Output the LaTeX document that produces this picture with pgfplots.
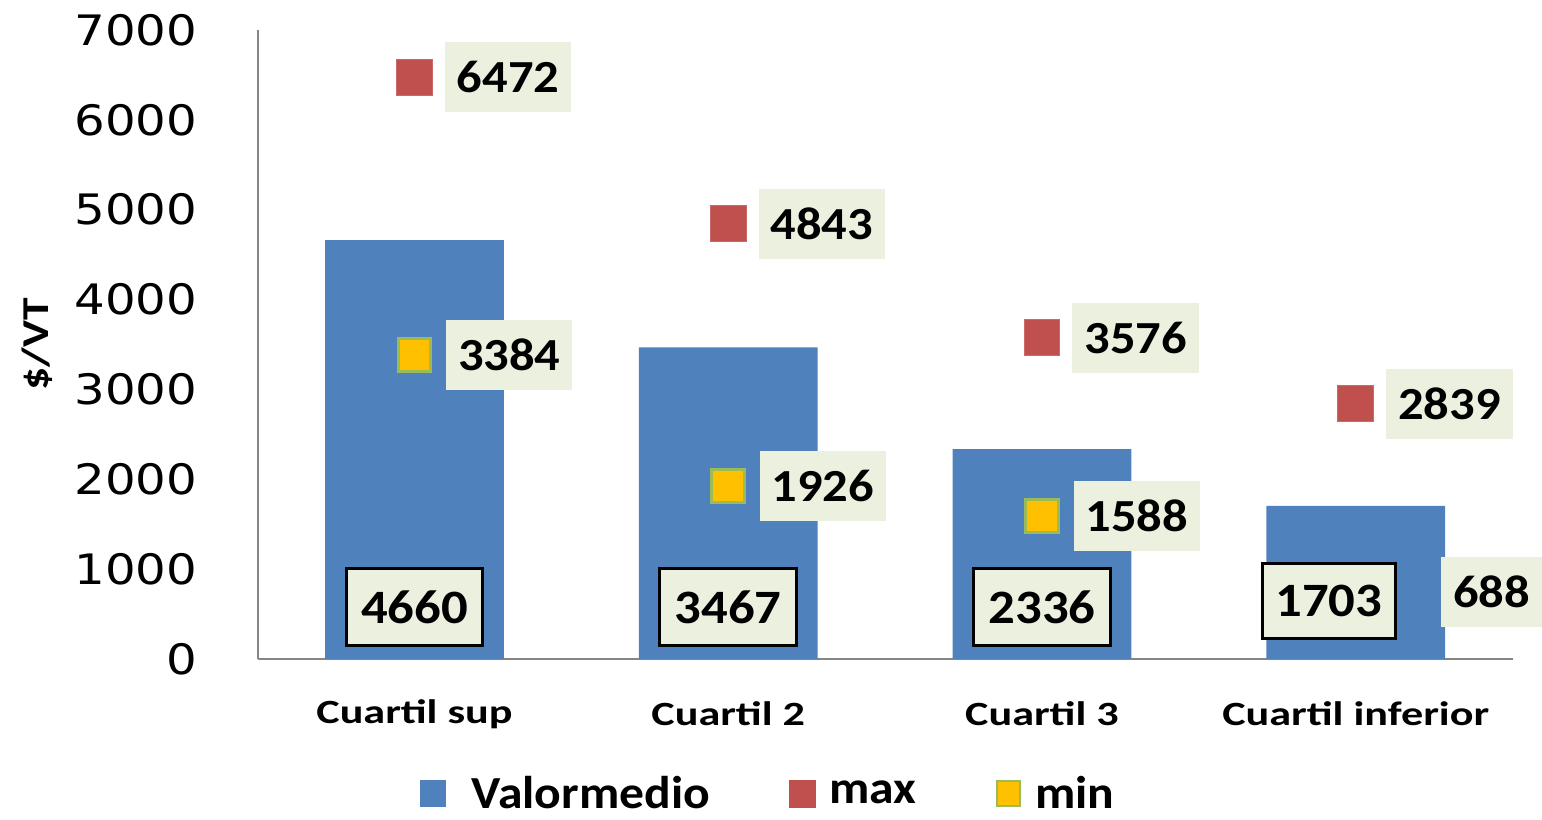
\documentclass[border=0pt]{standalone}
\usepackage{pgfplots}
\pgfplotsset{compat=1.18}
\usepackage{fontspec}
\setmainfont{Carlito}
\newfontfamily\calA{Carlito}[FakeStretch=1.1]
\newfontfamily\calW{Carlito}[FakeStretch=1.2]
\newfontfamily\calL{Carlito}[FakeStretch=1.08]
\newfontfamily\calX{Carlito}[FakeStretch=1.3]
\newfontfamily\tickfont{DejaVu Sans}[FakeStretch=1.15]
\definecolor{barblue}{HTML}{4F81BD}
\definecolor{maxred}{HTML}{C0504D}
\definecolor{minyel}{HTML}{FFC000}
\definecolor{mingreen}{HTML}{9BBB59}
\definecolor{lblfill}{HTML}{EBF1DE}
\definecolor{axgray}{HTML}{868686}
\begin{document}
\begin{tikzpicture}
\begin{axis}[
  scale only axis,
  width=628.5pt, height=315pt,
  xmin=-0.5, xmax=3.5, ymin=0, ymax=7000,
  clip=false,
  axis x line*=bottom, axis y line*=left,
  axis line style={axgray, line width=1pt},
  every outer x axis line/.append style={-}, every outer y axis line/.append style={-},
  major tick length=0pt,
  xtick={0,1,2,3},
  xticklabels={Cuartil sup, Cuartil 2, Cuartil 3, Cuartil inferior},
  xticklabel style={font=\calX\bfseries\fontsize{17}{17}\selectfont, anchor=center, yshift=-27.5pt},
  ytick={0,1000,...,7000},
  /pgf/number format/1000 sep={},
  /pgf/number format/assume math mode=true,
  yticklabel style={font=\tickfont\fontsize{21}{21}\selectfont, anchor=east, inner sep=0pt, xshift=-30pt},
  ylabel={\$/VT},
  every axis y label/.style={at={(axis description cs:0,0.5)}, xshift=-110.5pt, rotate=90, anchor=center, font=\calW\bfseries\fontsize{19}{19}\selectfont},
  legend style={at={(0.124,-0.214)}, anchor=west, legend columns=3, draw=none, fill=none,
    font=\calL\bfseries\fontsize{23}{23}\selectfont,
    /tikz/every even column/.append style={column sep=37.5pt},
    /tikz/every odd column/.append style={column sep=5pt}},
  legend cell align=left,
]
\addplot[ybar, bar width=0.57, fill=barblue, draw=none,
  legend image code/.code={\fill[barblue] (0pt,-6.75pt) rectangle (13pt,6.75pt);}]
  coordinates {(0,4660) (1,3467) (2,2336) (3,1703)};
\addlegendentry{\hspace{6pt}Valormedio}
\addplot[only marks, mark=square*, mark size=9pt, mark options={fill=maxred, draw=maxred!85!white, line width=0.5pt},
  point meta=explicit symbolic, nodes near coords,
  nodes near coords style={anchor=west, xshift=15pt, fill=lblfill, inner xsep=6pt, minimum height=35pt, font=\calA\bfseries\fontsize{23}{23}\selectfont, text=black},
  legend image code/.code={\fill[maxred] (0pt,-6.75pt) rectangle (13pt,6.75pt);}]
  coordinates {(0,6472)[6472] (1,4843)[4843] (2,3576)[3576] (3,2839)[2839]};
\addlegendentry{max\hspace{17pt}}
\addplot[only marks, mark=square*, mark size=8.2pt, mark options={fill=minyel, draw=mingreen, line width=1.6pt},
  point meta=explicit symbolic, nodes near coords,
  nodes near coords style={anchor=west, xshift=15pt, fill=lblfill, inner xsep=6pt, minimum height=35pt, font=\calA\bfseries\fontsize{23}{23}\selectfont, text=black},
  legend image code/.code={\draw[mingreen, line width=1.2pt, fill=minyel] (0.6pt,-6.15pt) rectangle (12.4pt,6.15pt);}]
  coordinates {(0,3384)[3384] (1,1926)[1926] (2,1588)[1588]};
\addlegendentry{min}
\addplot[forget plot, only marks, mark=square*, mark size=8.2pt, mark options={fill=minyel, draw=mingreen, line width=1.6pt},
  point meta=explicit symbolic, nodes near coords,
  nodes near coords style={anchor=west, xshift=42pt, yshift=2.5pt, fill=lblfill, inner xsep=6pt, minimum height=35pt, font=\calA\bfseries\fontsize{23}{23}\selectfont, text=black}]
  coordinates {(3,688)[688]};
% value labels of the bars
\addplot[forget plot, only marks, mark=none, draw=none,
  point meta=explicit symbolic, nodes near coords,
  nodes near coords style={anchor=center, fill=lblfill, draw=black, line width=1.5pt, minimum width=68.5pt, minimum height=38.5pt, font=\calA\bfseries\fontsize{24}{24}\selectfont, text=black}]
  coordinates {(0,578)[4660] (1,578)[3467] (2,578)[2336]};
\addplot[forget plot, only marks, mark=none, draw=none,
  point meta=explicit symbolic, nodes near coords,
  nodes near coords style={anchor=center, xshift=-13.5pt, fill=lblfill, draw=black, line width=1.5pt, minimum width=66.5pt, minimum height=37.5pt, font=\calA\bfseries\fontsize{24}{24}\selectfont, text=black}]
  coordinates {(3,644)[1703]};
\end{axis}
\path ([shift={(-129pt,-80.5pt)}]current axis.south west) rectangle ([shift={(13.5pt,15pt)}]current axis.north east);
\end{tikzpicture}
\end{document}
